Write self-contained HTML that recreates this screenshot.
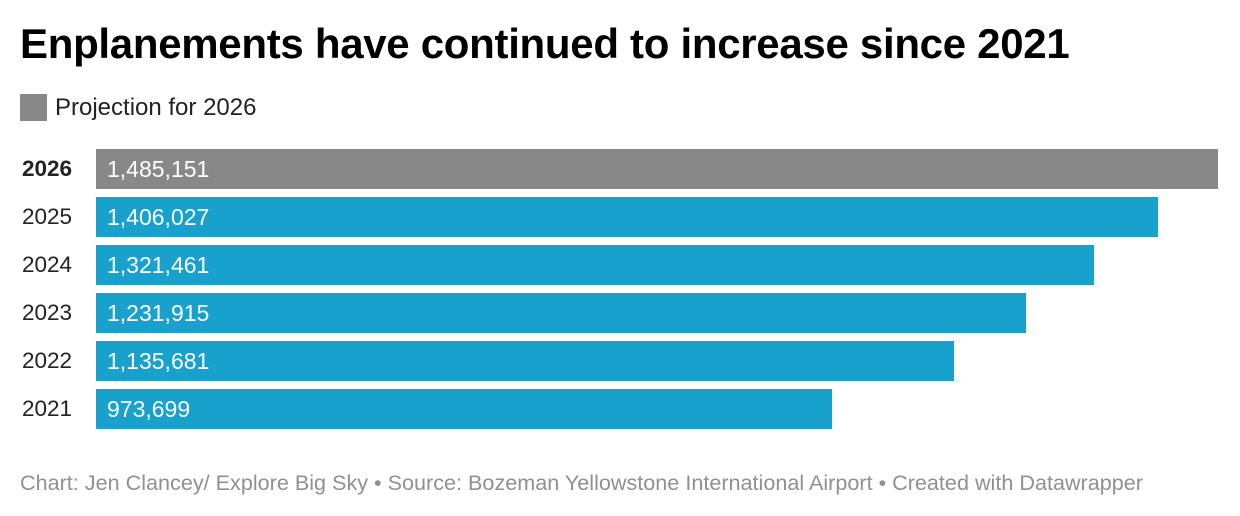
<!DOCTYPE html>
<html><head><meta charset="utf-8"><style>
body{margin:0;width:1240px;height:516px;background:#fff;font-family:"Liberation Sans",Arial,sans-serif;position:relative;overflow:hidden}
.t{position:absolute;left:20px;top:20px;font-size:42px;font-weight:bold;color:#000;letter-spacing:-0.3px;white-space:nowrap}
.lg{position:absolute;left:20px;top:94px;width:27px;height:27px;background:#888}
.lt{position:absolute;left:55px;top:94px;font-size:24px;color:#222;line-height:27px;white-space:nowrap}
.y{position:absolute;left:22px;font-size:22.5px;color:#222;line-height:40px}
.b{position:absolute;left:96px;height:40px;background:#18a1cd;color:#fff;font-size:23px;line-height:40px;box-sizing:border-box;padding-left:11px}
.f{position:absolute;left:20px;top:470px;font-size:21.6px;color:#909090;white-space:nowrap}
</style></head><body>
<div class="t">Enplanements have continued to increase since 2021</div>
<div class="lg"></div><div class="lt">Projection for 2026</div>
<div class="y" style="top:149px;font-weight:bold">2026</div>
<div class="b" style="top:149px;width:1122px;background:#888">1,485,151</div>
<div class="y" style="top:197px">2025</div>
<div class="b" style="top:197px;width:1062px">1,406,027</div>
<div class="y" style="top:245px">2024</div>
<div class="b" style="top:245px;width:998px">1,321,461</div>
<div class="y" style="top:293px">2023</div>
<div class="b" style="top:293px;width:930px">1,231,915</div>
<div class="y" style="top:341px">2022</div>
<div class="b" style="top:341px;width:858px">1,135,681</div>
<div class="y" style="top:389px">2021</div>
<div class="b" style="top:389px;width:736px">973,699</div>
<div class="f">Chart: Jen Clancey/ Explore Big Sky • Source: Bozeman Yellowstone International Airport • Created with Datawrapper</div>
</body></html>
